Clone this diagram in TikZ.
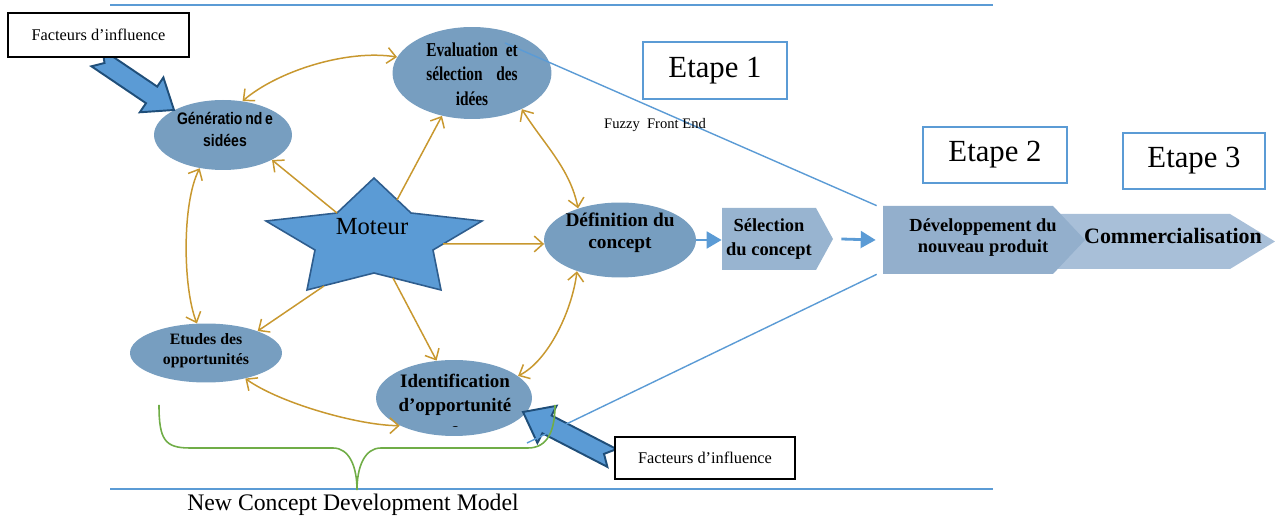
\documentclass[tikz,border=0pt]{standalone}
\usepackage{fontspec}
\setmainfont{Liberation Serif}
\newfontfamily\narrowserif[FakeStretch=0.78]{Liberation Serif}
\newfontfamily\narrowsans[FakeStretch=0.84]{Liberation Sans}
\usetikzlibrary{shapes.geometric,arrows.meta,calc}

\definecolor{blobfill}{HTML}{779EC0}
\definecolor{selfill}{HTML}{98B4D0}
\definecolor{devfill}{HTML}{93AFCC}
\definecolor{comfill}{HTML}{A8BFD8}
\definecolor{starfill}{HTML}{5B9BD5}
\definecolor{stardraw}{HTML}{2E5D8E}
\definecolor{arrowedge}{HTML}{1F4E79}
\definecolor{ochre}{HTML}{C8982F}
\definecolor{linkblue}{HTML}{5B9BD5}
\definecolor{bracegreen}{HTML}{70AD47}

\begin{document}
\begin{tikzpicture}[x=0.02cm,y=-0.02cm,
  blob/.style={ellipse, fill=blobfill, inner sep=0pt},
  goldarrow/.style={draw=ochre, line width=0.85pt, -{Straight Barb[length=5pt,width=9pt]}},
  goldbi/.style={draw=ochre, line width=0.85pt, {Straight Barb[length=5pt,width=9pt]}-{Straight Barb[length=5pt,width=9pt]}},
  flow/.style={draw=linkblue, line width=1.6pt, -{Triangle[length=8.5pt,width=9.5pt]}},
  funnel/.style={draw=linkblue, line width=0.8pt},
  stagebox/.style={draw=linkblue, line width=1.1pt, fill=white, minimum width=2.88cm, minimum height=1.13cm, font=\fontsize{17.5}{20}\selectfont},
  factbox/.style={draw=black, line width=0.9pt, fill=white, minimum width=3.62cm, minimum height=0.88cm, font=\fontsize{9.3}{11}\selectfont},
  bigarrow/.style={fill=starfill, draw=arrowedge, line width=1.1pt, line join=miter},
  lbl/.style={inner sep=0pt, align=center},
]
\useasboundingbox (0,0) rectangle (1275,519);

% horizontal rules above and below the model
\draw[funnel, line width=1.1pt] (110,5) -- (993,5);
\draw[funnel, line width=1.1pt] (110,489) -- (993,489);

% the five activity ellipses
\node[blob, minimum width=2.76cm, minimum height=1.4cm] (gen) at (223,135) {};
\node[blob, minimum width=3.18cm, minimum height=1.84cm] (eval) at (472,73) {};
\node[blob, minimum width=3.04cm, minimum height=1.5cm] (def) at (620,240) {};
\node[blob, minimum width=3.04cm, minimum height=1.18cm] (etudes) at (206,353) {};
\node[blob, minimum width=3.12cm, minimum height=1.52cm] (ident) at (454,398) {};

% the engine at the centre: a flattened five-point star
\draw[fill=starfill, draw=stardraw, line width=0.9pt, line join=miter]
  (374,178) -- (411,213) -- (482,221) -- (433,250) -- (441,290) -- (374,273)
  -- (307,290) -- (315,250) -- (266,221) -- (337,213) -- cycle;
\coordinate (s-gen) at (337,213);
\coordinate (s-eval) at (397,200);
\coordinate (s-def) at (443,244);
\coordinate (s-etudes) at (324,286);
\coordinate (s-ident) at (393,278);

% stage blocks on the right
\fill[comfill] (1040,214) -- (1230,214) -- (1275,241.5) -- (1230,269) -- (1040,269) -- cycle;
\fill[devfill] (883,206) -- (1053,206) -- (1085,240) -- (1053,274) -- (883,274) -- cycle;
\fill[selfill] (722,208) -- (816,208) -- (833,239) -- (816,270) -- (722,270) -- cycle;
\node[minimum width=3.4cm, minimum height=1.36cm, inner sep=0pt] (dev) at (968,240) {};
\node[lbl, font=\bfseries\fontsize{10.5}{13.6}\selectfont, minimum width=1.88cm, minimum height=1.24cm] (sel) at (769,239) {S\'election\\du concept};

% engine to activities
\draw[goldarrow] (s-gen) -- (gen.-27);
\draw[goldarrow] (s-eval) -- (eval.235);
\draw[goldarrow] (s-def) -- (def.183);
\draw[goldarrow] (s-etudes) -- (etudes.23);
\draw[goldarrow] (s-ident) -- (ident.115);

% links between activities
\draw[goldbi] (eval.168) .. controls +(-50,-8) and +(35,-30) .. (gen.60);
\draw[goldbi] (gen.235) .. controls +(-18,35) and +(-14,-35) .. (etudes.107);
\draw[goldbi] (etudes.-33) .. controls +(35,25) and +(-40,0) .. (ident.207);
\draw[goldbi] (def.216) .. controls +(-5,40) and +(30,-15) .. (ident.19);
\draw[goldbi] (eval.-36) .. controls +(22,35) and +(-8,-40) .. (def.143);

% flow towards development
\draw[flow] (def.east) -- (def.east -| sel.west);
\draw[flow] ([xshift=0.5cm]sel.east) -- ([xshift=-0.14cm]dev.west);

% influence arrows
\draw[bigarrow] (174,110) -- (163.4,77.5) -- (157.2,86.6) -- (102.6,49.7) -- (104.5,63.0)
  -- (91.4,66.3) -- (146.0,103.2) -- (139.8,112.3) -- cycle;
\draw[bigarrow] (523,412) -- (556.6,405.8) -- (551.6,415.5) -- (616.6,449.1) -- (604.0,453.9)
  -- (607.4,466.9) -- (542.4,433.3) -- (537.4,443.0) -- cycle;

% funnel from the fuzzy front end to stage 2
\coordinate (funnelend) at (527,443);
\draw[funnel] ([xshift=0.66cm,yshift=0.6cm]eval.center) -- ([xshift=-0.12cm]dev.north west);
\draw[funnel] ([xshift=-0.12cm]dev.south west) -- (funnelend);

% brace under the model
\draw[bracegreen, line width=0.9pt] (159,405) .. controls (159,440) and (165,448) .. (190,448)
  -- (333,448) .. controls (350,448) and (357,468) .. (357,490)
  .. controls (357,468) and (364,448) .. (381,448) -- (528,448)
  .. controls (548,448) and (555,430) .. (555,405);

% boxes
\node[stagebox] (etape1) at (715,70.5) {Etape 1};
\node[stagebox] (etape2) at (995,155) {Etape 2};
\node[stagebox, minimum width=2.84cm] (etape3) at (1194,161) {Etape 3};
\node[factbox] (fact1) at (98.5,35) {Facteurs d’influence};
\node[factbox, minimum width=3.6cm, minimum height=0.84cm] (fact2) at (705,458) {Facteurs d’influence};

% labels
\node[lbl, font=\fontsize{14}{16}\selectfont] (moteur) at (372,227) {Moteur};
\node[lbl, font=\narrowsans\bfseries\fontsize{9.5}{12.5}\selectfont] (gen-t) at (225,129) {G\'en\'eratio\,nd\,e\\sid\'ees};
\node[lbl, font=\narrowserif\bfseries\fontsize{11.2}{14}\selectfont] (eval-t) at (472,74)
  {\makebox[52pt][s]{Evaluation et}\\\makebox[52pt][s]{s\'election des}\\id\'ees};
\node[lbl, font=\bfseries\fontsize{11}{12.5}\selectfont] (def-t) at (620,233) {D\'efinition du\\concept};
\node[lbl, font=\bfseries\fontsize{9}{11.4}\selectfont] (etudes-t) at (206,351) {Etudes des\\opportunit\'es};
\begin{scope}
  \clip (370,355) rectangle (540,427);
  \node[lbl, font=\bfseries\fontsize{10.8}{13.6}\selectfont] (ident-t) at (455,405) {Identification\\d’opportunit\'e\\s};
\end{scope}
\node[lbl, font=\bfseries\fontsize{10.5}{12}\selectfont] (dev-t) at (983,238) {D\'eveloppement du\\nouveau produit};
\node[lbl, font=\bfseries\fontsize{12.5}{14}\selectfont] (comm) at (1173,236) {Commercialisation};
\node[lbl, font=\fontsize{8.3}{10}\selectfont] (ffe) at (655,125) {Fuzzy\ \ Front End};
\node[lbl, font=\fontsize{13.5}{15}\selectfont] (model) at (353,505) {New Concept Development Model};
\end{tikzpicture}
\end{document}
